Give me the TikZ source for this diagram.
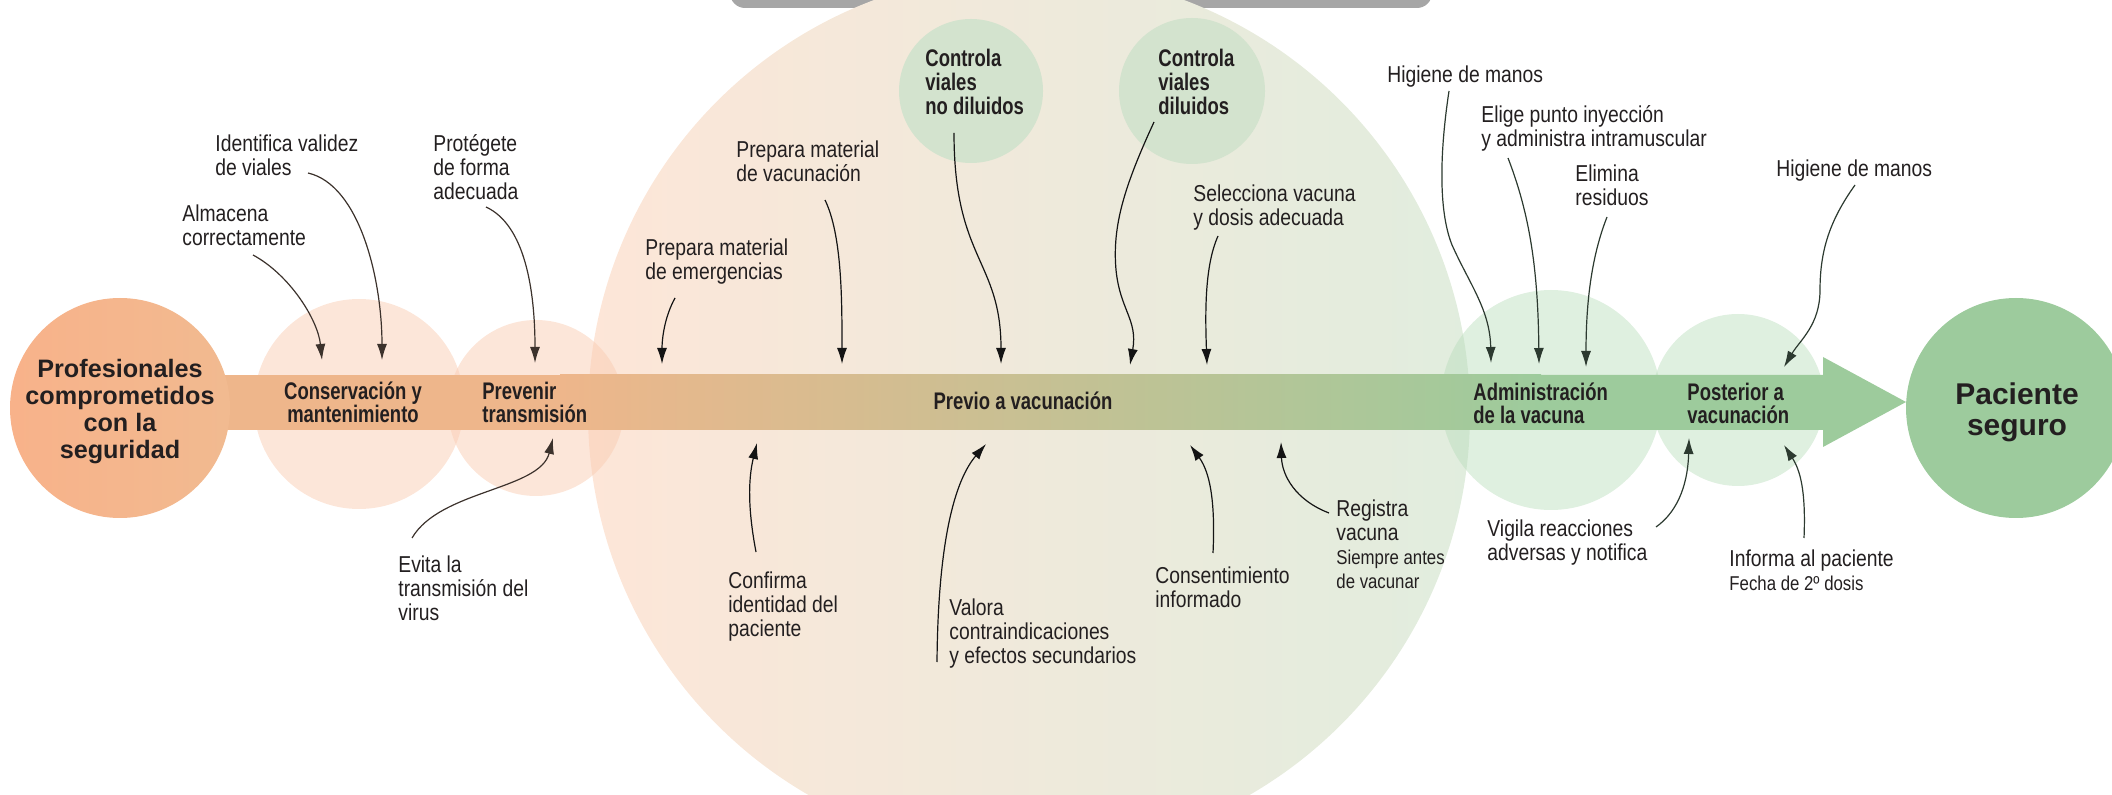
\documentclass[tikz,border=0pt]{standalone}
\usepackage{fontspec}
\setmainfont{Liberation Sans}
\newfontfamily\lblfont{Liberation Sans}[FakeStretch=0.84]
\newfontfamily\stgfont{Liberation Sans}[FakeStretch=0.77]
\usetikzlibrary{arrows.meta}

\definecolor{ink}{RGB}{35,31,32}
\definecolor{peach}{RGB}{250,205,180}
\definecolor{mint}{RGB}{185,221,187}
\definecolor{ctrl}{RGB}{211,227,206}
\definecolor{proL}{RGB}{248,178,138}
\definecolor{proR}{RGB}{241,186,144}
\definecolor{safe}{RGB}{157,203,157}
\definecolor{bigL}{RGB}{253,230,216}
\definecolor{bigM}{RGB}{242,236,226}
\definecolor{bigR}{RGB}{225,237,222}
\definecolor{barO}{RGB}{238,182,139}
\definecolor{barT}{RGB}{210,190,144}
\definecolor{barG}{RGB}{157,203,156}
\definecolor{greybar}{RGB}{166,166,166}
\definecolor{arrL}{RGB}{60,50,44}
\definecolor{arrM}{RGB}{20,20,20}
\definecolor{arrR}{RGB}{44,58,48}

\begin{document}
\begin{tikzpicture}[x=0.5pt,y=-0.5pt,>={Latex[length=8pt,width=5pt]},
  note/.style={font=\lblfont\fontsize{11.5}{12}\selectfont,text=ink,align=left,inner sep=0pt,anchor=north west},
  stage/.style={font=\stgfont\bfseries\fontsize{12}{11.5}\selectfont,text=ink,align=left,inner sep=0pt},
  goal/.style={font=\bfseries\fontsize{12.6}{13.5}\selectfont,text=ink,align=center,inner sep=0pt},
  pinL/.style={->,draw=arrL,line width=0.6pt},
  pinM/.style={->,draw=arrM,line width=0.6pt},
  pinR/.style={->,draw=arrR,line width=0.6pt}]

\useasboundingbox (0,0) rectangle (2112,795);
\clip (0,0) rectangle (2112,795);

% background shapes
\fill[greybar,rounded corners=7.5pt] (730,-40) rectangle (1432,8);
\shade[left color=bigL,middle color=bigM,right color=bigR] (1029,413) circle[radius=441];
\fill[ctrl] (971,91) circle[radius=72];
\fill[ctrl] (1192,91) circle[radius=73];

\fill[peach,fill opacity=0.5] (359,404) circle[radius=105];
\fill[peach,fill opacity=0.5] (536,408) circle[radius=88];
\fill[mint,fill opacity=0.45] (1551,400) circle[radius=110];
\fill[mint,fill opacity=0.45] (1738,400) circle[radius=86];

% the main arrow
\fill[barO] (185,375) rectangle (561,430);
\shade[left color=barO,middle color=barT,right color=barG] (560,375) rectangle (1541,430);
\fill[barG] (1540,375) -- (1823,375) -- (1823,357) -- (1906,402)
  -- (1823,447) -- (1823,430) -- (1540,430) -- cycle;

\shade[left color=proL,right color=proR] (120,408) circle[radius=110];
\fill[safe] (2016,408) circle[radius=110];

% stages
\node[goal] (prof) at (120,412) {Profesionales\\comprometidos\\con la\\seguridad};
\node[goal,font=\bfseries\fontsize{15}{15.5}\selectfont] (pac) at (2017,412) {Paciente\\seguro};
\node[stage,align=center] (cm) at (353,402) {Conservación y\\mantenimiento};
\node[stage,anchor=west] (pt) at (482,402) {Prevenir\\transmisión};
\node[stage] (pv) at (1023,401) {Previo a vacunación};
\node[stage,anchor=west] (ad) at (1473,403) {Administración\\de la vacuna};
\node[stage,anchor=west] (po) at (1687,403) {Posterior a\\vacunación};
\node[stage,anchor=north west,font=\stgfont\bfseries\fontsize{12}{12}\selectfont] (cnd) at (925,49) {Controla\\viales\\no diluidos};
\node[stage,anchor=north west,font=\stgfont\bfseries\fontsize{12}{12}\selectfont] (cd) at (1158,49) {Controla\\viales\\diluidos};

% notes
\node[note] (alm) at (182,204) {Almacena\\correctamente};
\node[note] (ide) at (215,134) {Identifica validez\\de viales};
\node[note] (prt) at (433,134) {Protégete\\de forma\\adecuada};
\node[note] (evi) at (398,555) {Evita la\\transmisión del\\virus};
\node[note] (eme) at (645,238) {Prepara material\\de emergencias};
\node[note] (vac) at (736,140) {Prepara material\\de vacunación};
\node[note] (sel) at (1193,184) {Selecciona vacuna\\y dosis adecuada};
\node[note] (cnf) at (728,571) {Confirma\\identidad del\\paciente};
\node[note] (val) at (949,598) {Valora\\contraindicaciones\\y efectos secundarios};
\node[note] (cns) at (1155,566) {Consentimiento\\informado};
\node[note] (reg) at (1336,499) {Registra\\vacuna\\{\fontsize{10}{12}\selectfont Siempre antes}\\{\fontsize{10}{12}\selectfont de vacunar}};
\node[note] (hg1) at (1387,65) {Higiene de manos};
\node[note] (eli) at (1481,105) {Elige punto inyección\\y administra intramuscular};
\node[note] (elm) at (1575,164) {Elimina\\residuos};
\node[note] (hg2) at (1776,159) {Higiene de manos};
\node[note] (vig) at (1487,519) {Vigila reacciones\\adversas y notifica};
\node[note] (inf) at (1729,549) {Informa al paciente\\{\fontsize{10}{12}\selectfont Fecha de 2º dosis}};

% arrow ends
\coordinate (alm-s) at (253,255);   \coordinate (alm-t) at (322,360);
\coordinate (ide-s) at (308,173);   \coordinate (ide-t) at (382,360);
\coordinate (prt-s) at (486,207);   \coordinate (prt-t) at (535,363);
\coordinate (evi-s) at (412,538);   \coordinate (evi-t) at (553,438);
\coordinate (eme-s) at (675,298);   \coordinate (eme-t) at (662,364);
\coordinate (vac-s) at (825,200);   \coordinate (vac-t) at (842,364);
\coordinate (cnd-s) at (954,133);   \coordinate (cnd-t) at (1001,364);
\coordinate (cd-s) at (1154,122);   \coordinate (cd-t) at (1130,365);
\coordinate (sel-s) at (1218,236);  \coordinate (sel-t) at (1207,365);
\coordinate (cnf-s) at (756,552);   \coordinate (cnf-t) at (757,443);
\coordinate (val-s) at (937,662);   \coordinate (val-t) at (986,444);
\coordinate (cns-s) at (1213,553);  \coordinate (cns-t) at (1190,445);
\coordinate (reg-s) at (1329,513);  \coordinate (reg-t) at (1281,442);
\coordinate (hg1-s) at (1449,91);   \coordinate (hg1-t) at (1491,363);
\coordinate (eli-s) at (1508,158);  \coordinate (eli-t) at (1539,364);
\coordinate (elm-s) at (1607,217);  \coordinate (elm-t) at (1586,367);
\coordinate (hg2-s) at (1855,185);  \coordinate (hg2-t) at (1784,367);
\coordinate (vig-s) at (1656,527);  \coordinate (vig-t) at (1689,438);
\coordinate (inf-s) at (1804,538);  \coordinate (inf-t) at (1784,445);

\draw[pinL] (alm-s) .. controls (290,275) and (318,320) .. (alm-t);
\draw[pinL] (ide-s) .. controls (360,185) and (382,280) .. (ide-t);
\draw[pinL] (prt-s) .. controls (525,225) and (535,290) .. (prt-t);
\draw[pinL] (evi-s) .. controls (440,490) and (540,490) .. (evi-t);

\draw[pinM] (eme-s) .. controls (664,318) and (662,340) .. (eme-t);
\draw[pinM] (vac-s) .. controls (842,235) and (842,300) .. (vac-t);
\draw[pinM] (cnd-s) .. controls (954,260) and (1001,260) .. (cnd-t);
\draw[pinM] (cd-s) .. controls (1125,185) and (1112,225) .. (1116,270)
  .. controls (1120,310) and (1138,320) .. (cd-t);
\draw[pinM] (sel-s) .. controls (1205,265) and (1205,310) .. (sel-t);
\draw[pinM] (cnf-s) .. controls (748,510) and (748,480) .. (cnf-t);
\draw[pinM] (val-s) .. controls (938,540) and (955,480) .. (val-t);
\draw[pinM] (cns-s) .. controls (1215,510) and (1212,475) .. (cns-t);
\draw[pinM] (reg-s) .. controls (1295,500) and (1282,475) .. (reg-t);

\draw[pinR] (hg1-s) .. controls (1440,150) and (1438,210) .. (1452,245)
  .. controls (1470,285) and (1490,310) .. (hg1-t);
\draw[pinR] (eli-s) .. controls (1530,215) and (1538,270) .. (eli-t);
\draw[pinR] (elm-s) .. controls (1592,255) and (1586,300) .. (elm-t);
\draw[pinR] (hg2-s) .. controls (1830,220) and (1820,250) .. (1820,290)
  .. controls (1820,325) and (1800,340) .. (hg2-t);
\draw[pinR] (vig-s) .. controls (1680,510) and (1688,480) .. (vig-t);
\draw[pinR] (inf-s) .. controls (1806,490) and (1800,470) .. (inf-t);

\end{tikzpicture}
\end{document}
